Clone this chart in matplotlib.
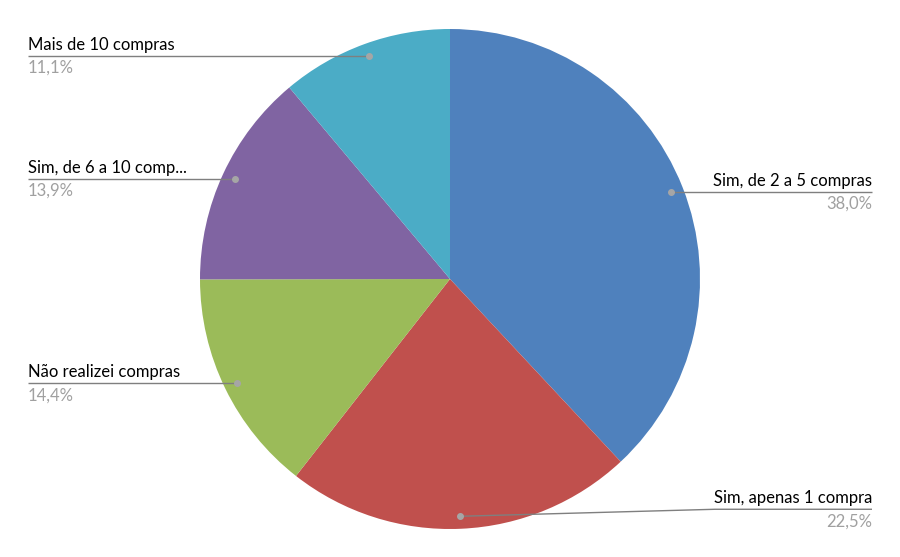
from matplotlib import pyplot as plt
import numpy as np

plt.rcParams['font.family'] = ['Lato', 'DejaVu Sans']

labels = ["Sim, de 2 a 5 compras", "Sim, apenas 1 compra", "Não realizei compras",
          "Sim, de 6 a 10 comp...", "Mais de 10 compras"]
values = [38.0, 22.5, 14.4, 13.9, 11.1]
pct_text = ["38,0%", "22,5%", "14,4%", "13,9%", "11,1%"]
colors = ["#4F81BD", "#C0504D", "#9BBB59", "#8064A2", "#4BACC6"]

W, H = 900, 557
cx, cy, R = 450, H - 279, 250

fig = plt.figure(figsize=(W / 100, H / 100), dpi=100)
ax = fig.add_axes([0, 0, 1, 1])

wedges, _ = ax.pie(values, colors=colors, startangle=90, counterclock=False,
                   center=(cx, cy), radius=R, frame=True,
                   wedgeprops=dict(linewidth=0))
ax.set_xlim(0, W)
ax.set_ylim(0, H)
ax.axis('off')

line_col = '#7f7f7f'
dot_col = '#a6a6a6'
fs = 12

total = sum(values)
start = 90.0
for i, v in enumerate(values):
    span = v / total * 360
    mid = np.deg2rad(start - span / 2)
    start -= span
    dx = cx + 0.95 * R * np.cos(mid)
    dy = cy + 0.95 * R * np.sin(mid)
    right = np.cos(mid) > 0
    if i == 1:
        ly = dy + 7
        xs = [dx, 715, 872]
        ys = [dy, ly, ly]
    else:
        ly = dy
        xs = [dx, 872] if right else [28, dx]
        ys = [ly, ly]
    ax.plot(xs, ys, color=line_col, lw=1.0, zorder=3, solid_capstyle='butt')
    ax.plot([dx], [dy], 'o', color=dot_col, ms=4, zorder=4)
    tx = 872 if right else 28
    ha = 'right' if right else 'left'
    ax.text(tx, ly + 3, labels[i], ha=ha, va='bottom', fontsize=fs, color='black')
    ax.text(tx, ly - 4, pct_text[i], ha=ha, va='top', fontsize=fs, color='#a0a0a0')

fig.savefig('out.png', dpi=100)
